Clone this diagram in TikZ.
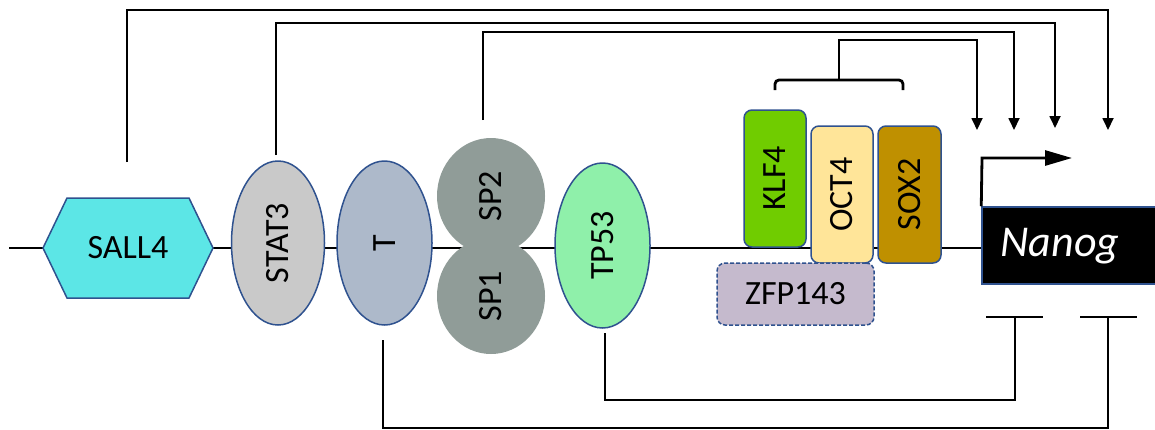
\documentclass[tikz,border=0pt]{standalone}
\usepackage{fontspec}
\setmainfont{Carlito}
\usetikzlibrary{shapes.geometric,arrows.meta}
\definecolor{bordc}{HTML}{2F528F}
\definecolor{sallc}{HTML}{5CE6E6}
\definecolor{statc}{HTML}{C9C9C9}
\definecolor{tc}{HTML}{ADB9CA}
\definecolor{spc}{HTML}{909C98}
\definecolor{tpc}{HTML}{8FF0AA}
\definecolor{klfc}{HTML}{70CC00}
\definecolor{octc}{HTML}{FFE599}
\definecolor{soxc}{HTML}{BF9000}
\definecolor{zfpc}{HTML}{C5BACD}
\begin{document}
\begin{tikzpicture}[x=1pt,y=-1pt,
  lbl/.style={font=\fontsize{34}{40}\selectfont, inner sep=0pt},
  prot/.style={lbl, draw=bordc, line width=1.5pt},
  ell/.style={prot, ellipse},
  rbox/.style={prot, rectangle, rounded corners=8pt},
  conn/.style={line width=1.8pt},
  arr/.style={conn, -{Triangle[length=12pt,width=11pt]}}]
\useasboundingbox (0,0) rectangle (1155,429);
% main DNA line
\coordinate (dnaL) at (9,248);
\coordinate (dnaR) at (982,248);
\draw[line width=2.6pt] (dnaL) -- (dnaR);
% SALL4 hexagon
\draw[draw=bordc, fill=sallc, line width=1.5pt] (43,248) -- (67,198) -- (189,198) -- (213,248) -- (189,298) -- (67,298) -- cycle;
\node[lbl] (sall4) at (128,248) {SALL4};
% ellipses
\node[ell, fill=statc, rotate=90, minimum width=164pt, minimum height=93pt] (stat3) at (278,243) {STAT3};
\node[ell, fill=tc, rotate=90, minimum width=164pt, minimum height=95pt] (tf) at (384.5,243) {T};
\node[lbl, ellipse, fill=spc, rotate=90, minimum width=116pt, minimum height=108pt] (sp2) at (491,196) {SP2};
\node[lbl, ellipse, fill=spc, rotate=90, minimum width=116pt, minimum height=108pt] (sp1) at (491,296) {SP1};
\node[ell, fill=tpc, rotate=90, minimum width=165pt, minimum height=95pt] (tp53) at (602.5,245.5) {TP53};
% boxes
\node[rbox, fill=klfc, rotate=90, minimum width=137pt, minimum height=62pt] (klf4) at (775,178.5) {KLF4};
\node[rbox, fill=octc, rotate=90, minimum width=137pt, minimum height=62pt] (oct4) at (842,194.5) {OCT4};
\node[rbox, fill=soxc, rotate=90, minimum width=137pt, minimum height=63pt] (sox2) at (909.5,194.5) {SOX2};
\node[rbox, fill=zfpc, dash pattern=on 4pt off 2pt, minimum width=157pt, minimum height=62pt] (zfp143) at (795.5,294) {ZFP143};
% Nanog gene
\node[draw=bordc, fill=black, line width=1.5pt, minimum width=180pt, minimum height=77pt, inner sep=0pt] (nanog) at (1072,245.5) {};
\node[lbl, text=white, font=\fontsize{44}{50}\selectfont\itshape] (nanogtxt) at (1060,246) {Nanog};
% promoter arrow
\draw[line width=2.8pt, -{Triangle[length=27pt,width=15pt]}] (nanog.north west) -- (982,158) -- (1072,158);
% bracket over KLF4/OCT4/SOX2
\coordinate (brL) at (775,90);
\coordinate (brR) at (903,90);
\coordinate (brM) at (839,69);
\draw[line width=2.8pt, rounded corners=4pt] (brL) -- (775,80) -- (903,80) -- (brR);
\draw[line width=2.8pt] (839,80) -- (brM);
% activation arrows
\coordinate (t1) at (977,130);
\coordinate (t2) at (1014,130);
\coordinate (t3) at (1055,128);
\coordinate (t4) at (1108,130);
\coordinate (sallTop) at (127,162);
\coordinate (statTop) at (276,155);
\coordinate (spTop) at (483,120);
\draw[arr] (brM) -- (839,40) -| (t1);
\draw[arr] (spTop) -- (483,32) -| (t2);
\draw[arr] (statTop) -- (276,23) -| (t3);
\draw[arr] (sallTop) -- (127,10) -| (t4);
% inhibition
\coordinate (tBot) at (383,340);
\coordinate (tpBot) at (605,333);
\coordinate (inh1) at (1015,317);
\coordinate (inh2) at (1108,317);
\draw[conn] (tpBot) -- (605,400) -| (inh1);
\draw[conn] (tBot) -- (383,428) -| (inh2);
\draw[conn] (986,317) -- (1043,317);
\draw[conn] (1080,317) -- (1137,317);
\end{tikzpicture}
\end{document}
